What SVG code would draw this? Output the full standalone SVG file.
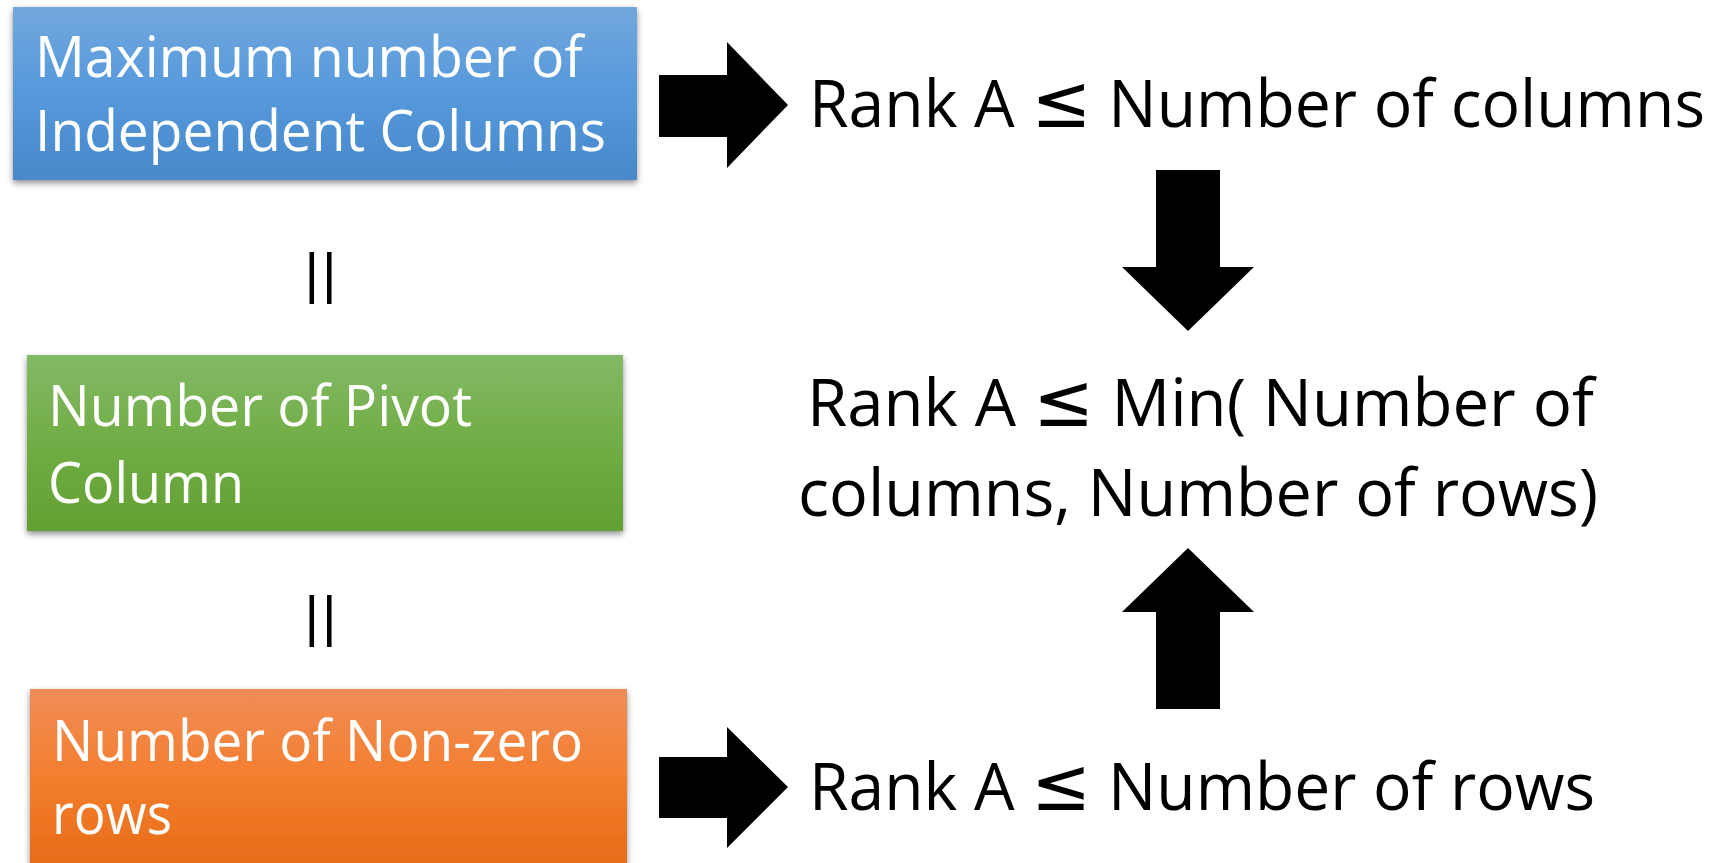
<svg xmlns="http://www.w3.org/2000/svg" width="1721" height="863" viewBox="0 0 1721 863">
<defs>
<linearGradient id="gBlue" x1="0" y1="0" x2="0" y2="1"><stop offset="0" stop-color="#72A7DD"/><stop offset="0.5" stop-color="#5599DC"/><stop offset="1" stop-color="#4888C9"/></linearGradient>
<linearGradient id="gGreen" x1="0" y1="0" x2="0" y2="1"><stop offset="0" stop-color="#83B966"/><stop offset="0.5" stop-color="#70AD45"/><stop offset="1" stop-color="#62A033"/></linearGradient>
<linearGradient id="gOrange" x1="0" y1="0" x2="0" y2="1"><stop offset="0" stop-color="#F08D57"/><stop offset="0.5" stop-color="#F47E2E"/><stop offset="1" stop-color="#E56B17"/></linearGradient>
<filter id="sh" x="-5%" y="-10%" width="110%" height="125%"><feDropShadow dx="0" dy="3" stdDeviation="3" flood-color="#000" flood-opacity="0.45"/></filter>
</defs>
<style>
.bt{font-family:"Open Sans","Liberation Sans",sans-serif;fill:#fff;font-size:57px}
.rt{font-family:"Open Sans","Liberation Sans",sans-serif;fill:#000;font-size:66px}
.le{font-family:"DejaVu Sans",sans-serif;font-size:74px}
.eq{font-family:"Liberation Sans",sans-serif;fill:#000;font-size:56px}
.ar{fill:#000}
</style>
<rect width="1721" height="863" fill="#fff"/>
<g id="node-max-indep">
<rect x="13" y="7" width="624" height="173" fill="url(#gBlue)" filter="url(#sh)"/>
<text class="bt" x="35" y="77" textLength="548" lengthAdjust="spacingAndGlyphs">Maximum number of</text>
<text class="bt" x="35" y="151" textLength="571" lengthAdjust="spacingAndGlyphs">Independent Columns</text>
</g>
<g id="node-pivot">
<rect x="27" y="355" width="596" height="176" fill="url(#gGreen)" filter="url(#sh)"/>
<text class="bt" x="48" y="426" textLength="424" lengthAdjust="spacingAndGlyphs">Number of Pivot</text>
<text class="bt" x="48" y="503" textLength="196" lengthAdjust="spacingAndGlyphs">Column</text>
</g>
<g id="node-nonzero">
<rect x="30" y="689" width="597" height="180" fill="url(#gOrange)" filter="url(#sh)"/>
<text class="bt" x="52" y="761" textLength="531" lengthAdjust="spacingAndGlyphs">Number of Non-zero</text>
<text class="bt" x="52" y="834" textLength="120" lengthAdjust="spacingAndGlyphs">rows</text>
</g>
<g id="node-rank-cols">
<text class="rt" x="809" y="127" textLength="896" lengthAdjust="spacingAndGlyphs">Rank A <tspan class="le">≤</tspan> Number of columns</text>
</g>
<g id="node-rank-min">
<text class="rt" x="807" y="426" textLength="787" lengthAdjust="spacingAndGlyphs">Rank A <tspan class="le">≤</tspan> Min( Number of</text>
<text class="rt" x="798" y="516" textLength="800" lengthAdjust="spacingAndGlyphs">columns, Number of rows)</text>
</g>
<g id="node-rank-rows">
<text class="rt" x="809" y="810" textLength="786" lengthAdjust="spacingAndGlyphs">Rank A <tspan class="le">≤</tspan> Number of rows</text>
</g>
<g id="eq1"><text class="eq" x="322" y="292" text-anchor="middle" letter-spacing="3">||</text></g>
<g id="eq2"><text class="eq" x="322" y="635" text-anchor="middle" letter-spacing="3">||</text></g>
<g id="connectors">
<polygon class="ar" points="659,75 727,75 727,42 788,105 727,168 727,137 659,137"/>
<polygon class="ar" points="659,757 727,757 727,727 788,787 727,848 727,818 659,818"/>
<polygon class="ar" points="1156,170 1220,170 1220,267 1254,267 1188,331 1122,267 1156,267"/>
<polygon class="ar" points="1156,709 1220,709 1220,612 1254,612 1188,548 1122,612 1156,612"/>
</g>
</svg>
